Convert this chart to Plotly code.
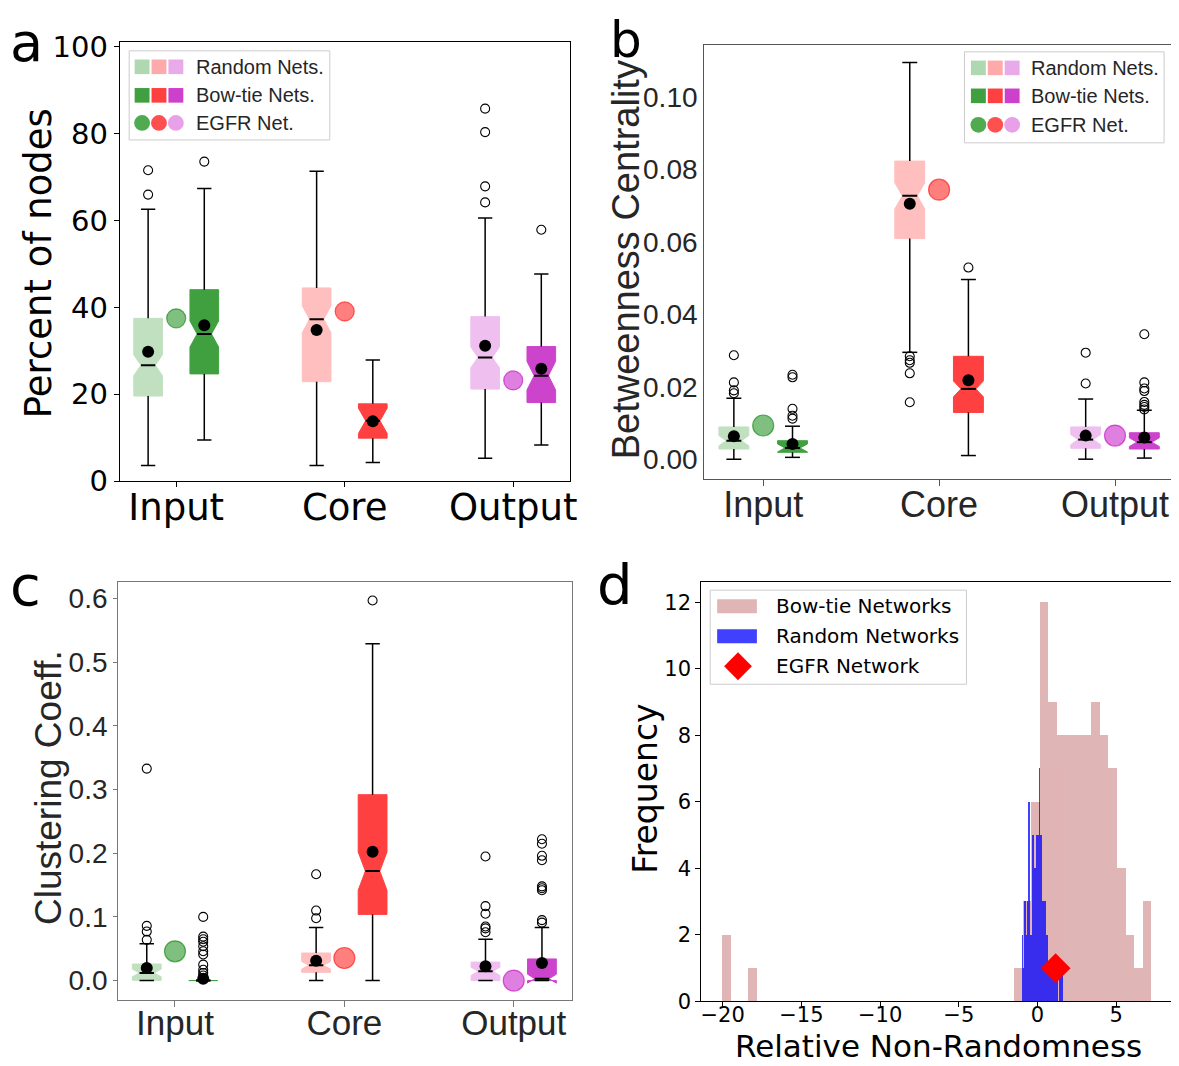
import plotly.graph_objects as go

W, H = 1179, 1066

categories = ["Input", "Core", "Output"]

# ---------------- panel a : Percent of nodes ----------------
a_rand_whislo = [3.6, 3.6, 5.3]
a_rand_q1 = [19.6, 22.9, 21.2]
a_rand_notchlo = [24.3, 34.2, 26.1]
a_rand_med = [26.7, 37.3, 28.5]
a_rand_notchhi = [29.1, 40.4, 30.9]
a_rand_q3 = [37.5, 44.5, 37.9]
a_rand_whishi = [62.6, 71.4, 60.6]
a_rand_mean = [29.8, 34.8, 31.2]
a_rand_fliers = [[71.6, 66.0], [], [85.8, 80.4, 67.9, 64.2]]

a_bow_whislo = [9.5, 4.3, 8.3]
a_bow_q1 = [24.7, 9.9, 18.1]
a_bow_notchlo = [30.9, 11.0, 21.0]
a_bow_med = [33.9, 13.9, 24.3]
a_bow_notchhi = [36.9, 16.8, 27.6]
a_bow_q3 = [44.1, 17.8, 31.0]
a_bow_whishi = [67.4, 27.9, 47.7]
a_bow_mean = [35.9, 13.8, 25.9]
a_bow_fliers = [[73.6], [], [57.9]]

a_egfr = [37.5, 39.1, 23.2]

# ---------------- panel b : Betweenness Centrality ----------------
b_rand_whislo = [0.0, 0.0295, 0.0]
b_rand_q1 = [0.0028, 0.0609, 0.0030]
b_rand_notchlo = [0.0037, 0.0691, 0.0040]
b_rand_med = [0.0051, 0.0727, 0.0054]
b_rand_notchhi = [0.0065, 0.0763, 0.0068]
b_rand_q3 = [0.0089, 0.0823, 0.0089]
b_rand_whishi = [0.0168, 0.1095, 0.0166]
b_rand_mean = [0.0063, 0.0705, 0.0065]
b_rand_fliers = [[0.0287, 0.0212, 0.0190, 0.0182],
                 [0.0284, 0.0273, 0.0266, 0.0237, 0.0157],
                 [0.0294, 0.0209]]

b_bow_whislo = [0.0005, 0.0010, 0.0003]
b_bow_q1 = [0.0019, 0.0129, 0.0028]
b_bow_notchlo = [0.0020, 0.0172, 0.0035]
b_bow_med = [0.0031, 0.0194, 0.0047]
b_bow_notchhi = [0.0042, 0.0216, 0.0059]
b_bow_q3 = [0.0051, 0.0284, 0.0073]
b_bow_whishi = [0.0091, 0.0496, 0.0135]
b_bow_mean = [0.0042, 0.0218, 0.0060]
b_bow_fliers = [[0.0233, 0.0226, 0.0139, 0.0120, 0.0112],
                [0.0529],
                [0.0345, 0.0212, 0.0195, 0.0188, 0.0158, 0.0150, 0.0144, 0.0137]]

b_egfr = [0.0093, 0.0744, 0.0065]

# ---------------- panel c : Clustering Coeff. ----------------
c_rand_whislo = [0.0, 0.0, 0.0]
c_rand_q1 = [0.0005, 0.013, 0.0]
c_rand_notchlo = [0.006, 0.018, 0.008]
c_rand_med = [0.012, 0.024, 0.0146]
c_rand_notchhi = [0.018, 0.030, 0.021]
c_rand_q3 = [0.026, 0.0433, 0.029]
c_rand_whishi = [0.058, 0.0835, 0.065]
c_rand_mean = [0.0198, 0.031, 0.0224]
c_rand_fliers = [[0.333, 0.086, 0.077, 0.064],
                 [0.167, 0.110, 0.098],
                 [0.195, 0.117, 0.105, 0.085, 0.082, 0.076]]

c_bow_whislo = [0.0, 0.0, 0.0]
c_bow_q1 = [0.0, 0.104, 0.0]
c_bow_notchlo = [0.0, 0.142, -0.004]
c_bow_med = [0.0, 0.172, 0.003]
c_bow_notchhi = [0.0, 0.202, 0.010]
c_bow_q3 = [0.0, 0.292, 0.034]
c_bow_whishi = [0.0, 0.529, 0.0835]
c_bow_mean = [0.003, 0.2025, 0.0277]
c_bow_fliers = [[0.100, 0.069, 0.065, 0.061, 0.054, 0.046, 0.041, 0.025, 0.017, 0.012, 0.008, 0.004],
                [0.597],
                [0.222, 0.215, 0.196, 0.189, 0.148, 0.145, 0.142, 0.095, 0.091]]

c_egfr = [0.046, 0.0355, 0.0]

# ---------------- panel d : histograms ----------------
bow_bin_start = -20.0
bow_bin_width = 0.545
bow_counts = [2, 0, 0, 1, 0, 0, 0, 0, 0, 0,
              0, 0, 0, 0, 0, 0, 0, 0, 0, 0,
              0, 0, 0, 0, 0, 0, 0, 0, 0, 0,
              0, 0, 0, 0, 1, 3, 6, 12, 9, 8,
              8, 8, 8, 9, 8, 7, 4, 2, 1, 3]

rand_bin_start = -0.96
rand_bin_width = 0.0512
rand_counts = [2, 1, 1, 3, 2, 2, 1, 3, 6, 2,
               2, 1, 2, 5, 2, 4, 2, 4, 5, 3,
               5, 7, 2, 5, 2, 3, 1, 3, 3, 1,
               2, 2, 1, 1, 0, 1, 1, 0, 1, 1,
               0, 1, 0, 1, 0, 0, 1, 1, 0, 1]

egfr_nonrandomness = [1.15]
egfr_frequency = [1]

# ---------------- colours ----------------
rand_colors = ["#c0e0c0", "#ffbfbf", "#efc0ef"]
bow_colors = ["#40a040", "#ff4040", "#cc44cc"]
egfr_fill = ["rgba(0,128,0,0.5)", "rgba(255,0,0,0.5)", "rgba(191,0,191,0.5)"]
egfr_edge = ["rgba(0,128,0,0.6)", "rgba(255,0,0,0.6)", "rgba(191,0,191,0.6)"]
leg_light = ["#b0d8b0", "#ffaaaa", "#e8aae8"]
leg_dark = ["#40a040", "#ff4040", "#cc40cc"]
leg_circ = ["#50aa50", "#ff5050", "#e8a0e8"]

BOX_W = 0.17
OFF = 1.0 / 6.0

fig = go.Figure()


def draw_boxes(xa, ya, offset, whislo, q1, nlo, med, nhi, q3, whishi, means, fliers, colors):
    for i in range(len(categories)):
        p = i + offset
        x0, x1 = p - BOX_W / 2, p + BOX_W / 2
        xl, xr = p - BOX_W / 4, p + BOX_W / 4
        fig.add_trace(go.Scatter(
            x=[x0, x1, x1, xr, x1, x1, x0, x0, xl, x0, x0],
            y=[q1[i], q1[i], nlo[i], med[i], nhi[i], q3[i], q3[i], nhi[i], med[i], nlo[i], q1[i]],
            xaxis=xa, yaxis=ya, mode="lines", fill="toself", fillcolor=colors[i],
            line=dict(color=colors[i], width=1), hoverinfo="skip", showlegend=False))
        fig.add_trace(go.Scatter(
            x=[p, p, None, p, p, None, xl, xr, None, xl, xr],
            y=[q1[i], whislo[i], None, q3[i], whishi[i], None,
               whislo[i], whislo[i], None, whishi[i], whishi[i]],
            xaxis=xa, yaxis=ya, mode="lines", line=dict(color="black", width=1.5),
            hoverinfo="skip", showlegend=False))
        fig.add_trace(go.Scatter(
            x=[xl, xr], y=[med[i], med[i]], xaxis=xa, yaxis=ya, mode="lines",
            line=dict(color="black", width=2), hoverinfo="skip", showlegend=False))
        if fliers[i]:
            fig.add_trace(go.Scatter(
                x=[p] * len(fliers[i]), y=fliers[i], xaxis=xa, yaxis=ya, mode="markers",
                marker=dict(symbol="circle-open", color="black", size=9, line=dict(width=1.1)),
                hoverinfo="skip", showlegend=False))
        fig.add_trace(go.Scatter(
            x=[p], y=[means[i]], xaxis=xa, yaxis=ya, mode="markers",
            marker=dict(color="black", size=12), hoverinfo="skip", showlegend=False))


def draw_egfr(xa, ya, vals, size):
    for i in range(len(categories)):
        fig.add_trace(go.Scatter(
            x=[i], y=[vals[i]], xaxis=xa, yaxis=ya, mode="markers",
            marker=dict(color=egfr_fill[i], size=size, line=dict(color=egfr_edge[i], width=1.2)),
            hoverinfo="skip", showlegend=False))


# panel a
draw_boxes("x", "y", -OFF, a_rand_whislo, a_rand_q1, a_rand_notchlo, a_rand_med, a_rand_notchhi,
           a_rand_q3, a_rand_whishi, a_rand_mean, a_rand_fliers, rand_colors)
draw_boxes("x", "y", OFF, a_bow_whislo, a_bow_q1, a_bow_notchlo, a_bow_med, a_bow_notchhi,
           a_bow_q3, a_bow_whishi, a_bow_mean, a_bow_fliers, bow_colors)
draw_egfr("x", "y", a_egfr, 19)

# panel b
draw_boxes("x2", "y2", -OFF, b_rand_whislo, b_rand_q1, b_rand_notchlo, b_rand_med, b_rand_notchhi,
           b_rand_q3, b_rand_whishi, b_rand_mean, b_rand_fliers, rand_colors)
draw_boxes("x2", "y2", OFF, b_bow_whislo, b_bow_q1, b_bow_notchlo, b_bow_med, b_bow_notchhi,
           b_bow_q3, b_bow_whishi, b_bow_mean, b_bow_fliers, bow_colors)
draw_egfr("x2", "y2", b_egfr, 21)

# panel c
draw_boxes("x3", "y3", -OFF, c_rand_whislo, c_rand_q1, c_rand_notchlo, c_rand_med, c_rand_notchhi,
           c_rand_q3, c_rand_whishi, c_rand_mean, c_rand_fliers, rand_colors)
draw_boxes("x3", "y3", OFF, c_bow_whislo, c_bow_q1, c_bow_notchlo, c_bow_med, c_bow_notchhi,
           c_bow_q3, c_bow_whishi, c_bow_mean, c_bow_fliers, bow_colors)
draw_egfr("x3", "y3", c_egfr, 21)

# panel d
bow_left = [bow_bin_start + k * bow_bin_width for k in range(len(bow_counts))]
rand_left = [rand_bin_start + k * rand_bin_width for k in range(len(rand_counts))]
fig.add_trace(go.Bar(x=bow_left, y=bow_counts, width=bow_bin_width, offset=0,
                     xaxis="x4", yaxis="y4", marker=dict(color="#e0b5b5", line=dict(width=0)),
                     name="Bow-tie Networks", showlegend=False, hoverinfo="skip"))
fig.add_trace(go.Bar(x=rand_left, y=rand_counts, width=rand_bin_width, offset=0,
                     xaxis="x4", yaxis="y4", opacity=0.75,
                     marker=dict(color="#0000ff", line=dict(width=0)),
                     name="Random Networks", showlegend=False, hoverinfo="skip"))
fig.add_trace(go.Scatter(x=egfr_nonrandomness, y=egfr_frequency, xaxis="x4", yaxis="y4",
                         mode="markers", marker=dict(symbol="diamond", color="red", size=23),
                         name="EGFR Network", showlegend=False, hoverinfo="skip"))


def dom_x(a, b):
    return [a / W, b / W]


def dom_y(top, bottom):
    return [1 - bottom / H, 1 - top / H]


DJ = "DejaVu Sans"
AR = "Liberation Sans, Arial"
DG = "#262626"

common = dict(showgrid=False, zeroline=False, showline=True, mirror=True)

fig.update_layout(
    width=W, height=H, margin=dict(l=0, r=0, t=0, b=0),
    paper_bgcolor="white", plot_bgcolor="white",
    barmode="overlay", bargap=0, showlegend=False,
    xaxis=dict(domain=dom_x(111.5, 564.5), range=[-0.335, 2.335], anchor="y",
               tickvals=[0, 1, 2], ticktext=categories, ticks="outside", ticklen=5,
               ticklabelstandoff=-12,
               tickcolor="black", linecolor="black", linewidth=1,
               tickfont=dict(family=DJ, size=37, color="black"), **common),
    yaxis=dict(domain=dom_y(23.4, 474.6), range=[0, 101.2], anchor="x",
               tickvals=[0, 20, 40, 60, 80, 100], ticks="outside", ticklen=5,
               tickcolor="black", linecolor="black", linewidth=1,
               tickfont=dict(family=DJ, size=29, color="black"), **common),
    xaxis2=dict(domain=dom_x(700, 1172), range=[-0.335, 2.33], anchor="y2",
                tickvals=[0, 1, 2], ticktext=categories, ticks="outside", ticklen=6,
                ticklabelstandoff=-12,
                tickcolor="#555555", linecolor="#555555", linewidth=1.2,
                tickfont=dict(family=AR, size=36, color=DG), **common),
    yaxis2=dict(domain=dom_y(26.5, 472.5), range=[-0.0055, 0.1144], anchor="x2",
                tickvals=[0, 0.02, 0.04, 0.06, 0.08, 0.10],
                ticktext=["0.00", "0.02", "0.04", "0.06", "0.08", "0.10"], ticks="",
                linecolor="#555555", linewidth=1.2,
                tickfont=dict(family=AR, size=28, color=DG), **common),
    xaxis3=dict(domain=dom_x(110, 567), range=[-0.335, 2.345], anchor="y3",
                tickvals=[0, 1, 2], ticktext=categories, ticks="outside", ticklen=6,
                ticklabelstandoff=-14,
                tickcolor="#777777", linecolor="#777777", linewidth=1.2,
                tickfont=dict(family=AR, size=35, color=DG), **common),
    yaxis3=dict(domain=dom_y(578.4, 1007), range=[-0.0298, 0.6258], anchor="x3",
                tickvals=[0, 0.1, 0.2, 0.3, 0.4, 0.5, 0.6],
                ticktext=["0.0", "0.1", "0.2", "0.3", "0.4", "0.5", "0.6"], ticks="outside",
                ticklen=4, tickcolor="#777777", linecolor="#777777", linewidth=1.2,
                tickfont=dict(family=AR, size=28, color=DG), **common),
    xaxis4=dict(domain=dom_x(697, 1172), range=[-21.36, 8.61], anchor="y4",
                tickvals=[-20, -15, -10, -5, 0, 5],
                ticktext=["\u221220", "\u221215", "\u221210", "\u22125", "0", "5"],
                ticks="outside", ticklen=5, ticklabelstandoff=-11,
                tickcolor="black", linecolor="black", linewidth=1,
                tickfont=dict(family=DJ, size=21, color="black"), **common),
    yaxis4=dict(domain=dom_y(578.4, 1009), range=[0, 12.6], anchor="x4",
                tickvals=[0, 2, 4, 6, 8, 10, 12], ticks="outside", ticklen=5,
                tickcolor="black", linecolor="black", linewidth=1,
                tickfont=dict(family=DJ, size=21, color="black"), **common),
)


def px(x):
    return x / W


def py(y):
    return 1 - y / H


annotations = []
shapes = []


def text(x, y, s, family, size, color="black", xanchor="center", angle=0):
    annotations.append(dict(x=px(x), y=py(y), xref="paper", yref="paper", text=s,
                            showarrow=False, xanchor=xanchor, yanchor="middle",
                            textangle=angle, font=dict(family=family, size=size, color=color)))


# panel letters
text(18, 24, "a", DJ, 54)
text(621, 22, "b", DJ, 50)
text(17, 582, "c", DJ, 56)
text(610, 581, "d", DJ, 56)

# axis titles
text(30, 251, "Percent of nodes", DJ, 37, angle=-90)
text(621, 247, "Betweenness Centrality", AR, 38, DG, angle=-90)
text(40, 789, "Clustering Coeff.", AR, 37, DG, angle=-90)
text(641, 791, "Frequency", DJ, 33, angle=-90)
text(936, 1055, "Relative Non-Randomness", DJ, 31)


def box_legend(x0, y0, x1, y1, sq_x, rows_y, text_x):
    shapes.append(dict(type="rect", xref="paper", yref="paper", x0=px(x0), x1=px(x1),
                       y0=py(y1), y1=py(y0), line=dict(color="#cccccc", width=1),
                       fillcolor="rgba(255,255,255,0.85)", layer="above"))
    s = 7.5
    for j, cx in enumerate(sq_x):
        for row, cols in ((0, leg_light), (1, leg_dark)):
            cy = rows_y[row]
            shapes.append(dict(type="rect", xref="paper", yref="paper",
                               x0=px(cx - s), x1=px(cx + s), y0=py(cy + s), y1=py(cy - s),
                               line=dict(width=0), fillcolor=cols[j], layer="above"))
        cy = rows_y[2]
        shapes.append(dict(type="circle", xref="paper", yref="paper",
                           x0=px(cx - 8), x1=px(cx + 8), y0=py(cy + 8), y1=py(cy - 8),
                           line=dict(width=0), fillcolor=leg_circ[j], layer="above"))
    labels = ["Random Nets.", "Bow-tie Nets.", "EGFR Net."]
    for lab, ry in zip(labels, rows_y):
        text(text_x, ry, lab, AR, 20, DG, xanchor="left")


box_legend(121, 32.7, 323, 124.2, [134, 151, 168], [49.1, 78.4, 106.7], 186)
box_legend(962, 33.7, 1163, 127.2, [976, 993, 1010], [50.2, 78.9, 108.7], 1027)

# panel d legend
shapes.append(dict(type="rect", xref="paper", yref="paper", x0=px(706), x1=px(964),
                   y0=py(683.2), y1=py(586.6), line=dict(color="#cccccc", width=1),
                   fillcolor="rgba(255,255,255,0.85)", layer="above"))
shapes.append(dict(type="rect", xref="paper", yref="paper", x0=px(713), x1=px(753),
                   y0=py(610.3), y1=py(595.9), line=dict(width=0), fillcolor="#e0b5b5", layer="above"))
shapes.append(dict(type="rect", xref="paper", yref="paper", x0=px(713), x1=px(753),
                   y0=py(641.2), y1=py(626.8), line=dict(width=0), fillcolor="#4040ff", layer="above"))
dx, dcy = 734, 664.8
path = "M {},{} L {},{} L {},{} L {},{} Z".format(px(dx), py(dcy - 14.4), px(dx + 14), py(dcy),
                                                px(dx), py(dcy + 14.4), px(dx - 14), py(dcy))
shapes.append(dict(type="path", xref="paper", yref="paper", path=path,
                   line=dict(width=0), fillcolor="red", layer="above"))
text(770, 603.1, "Bow-tie Networks", DJ, 20, xanchor="left")
text(770, 634.0, "Random Networks", DJ, 20, xanchor="left")
text(770, 664.8, "EGFR Network", DJ, 20, xanchor="left")

fig.update_layout(annotations=annotations, shapes=shapes)

fig.write_html("out.html")
